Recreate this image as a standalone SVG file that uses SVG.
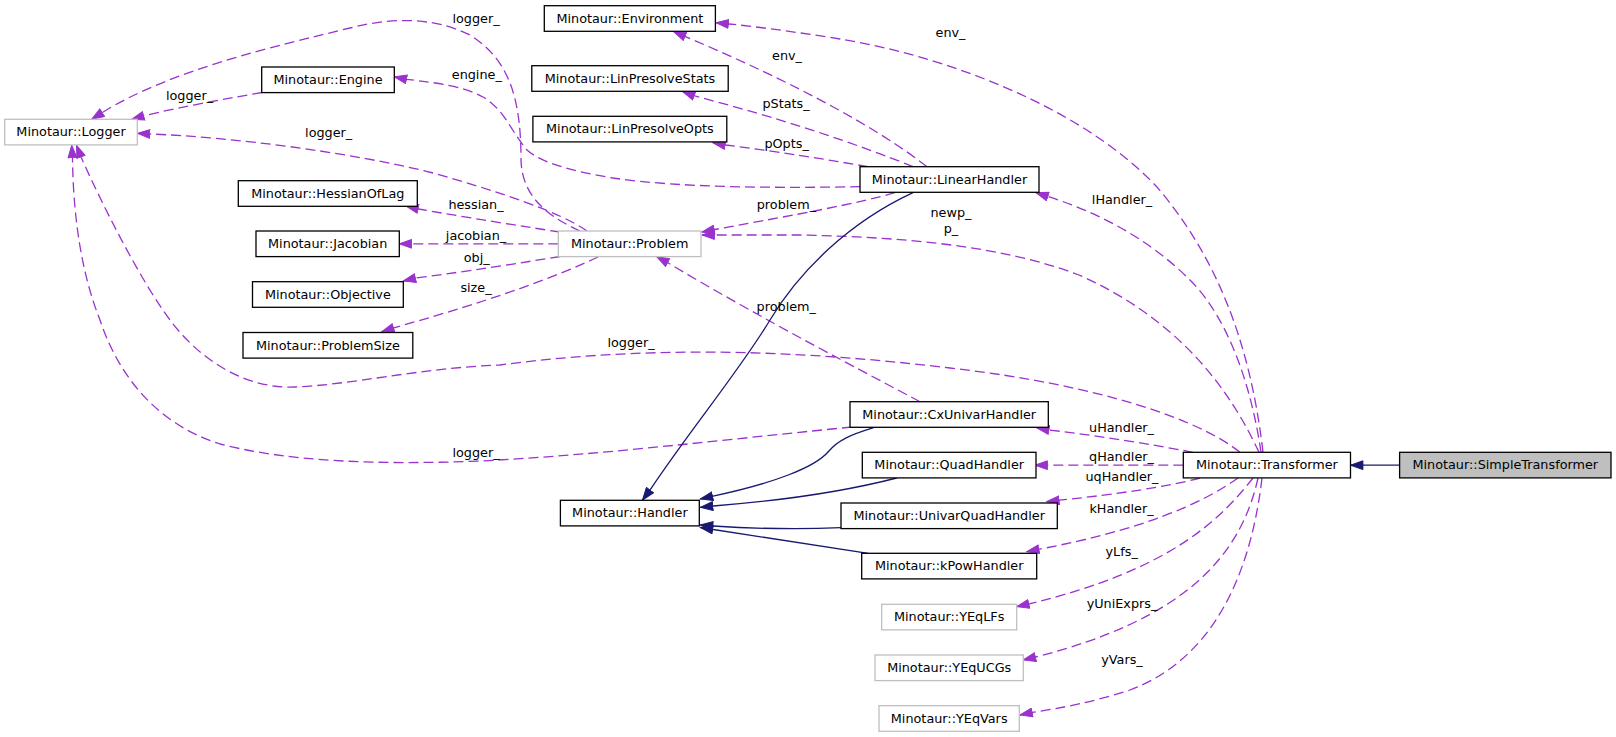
<svg xmlns="http://www.w3.org/2000/svg" width="1616" height="737" viewBox="0 0 1616 737">
<style>
text{font-family:"DejaVu Sans","Liberation Sans",sans-serif;font-size:12.8px;fill:#000}
.n rect{fill:#fff;stroke:#000;stroke-width:1.3}
.n.g rect{stroke:#bfbfbf}
.n.sel rect{fill:#bfbfbf}
.n text,.lb text{text-anchor:middle}
.d{fill:none;stroke:#9a32cd;stroke-width:1.3;stroke-dasharray:10,5;marker-end:url(#ap)}
.s{fill:none;stroke:#191970;stroke-width:1.3;marker-end:url(#an)}
</style>
<defs>
<marker id="ap" markerUnits="userSpaceOnUse" viewBox="0 0 14 10" markerWidth="14" markerHeight="10" refX="13" refY="5" orient="auto"><path d="M0.6,0.6 L13,5 L0.6,9.4 z" fill="#9a32cd" stroke="#9a32cd" stroke-width="1"/></marker>
<marker id="an" markerUnits="userSpaceOnUse" viewBox="0 0 14 10" markerWidth="14" markerHeight="10" refX="13" refY="5" orient="auto"><path d="M0.6,0.6 L13,5 L0.6,9.4 z" fill="#191970" stroke="#191970" stroke-width="1"/></marker>
</defs>
<rect width="1616" height="737" fill="#fff"/>
<g id="edges">
<path class="s" d="M1399.6,465.2 L1350.5,465.2"/>
<path class="d" d="M1263,452.3 C1250,340 1215,255 1157,187 C1080,105 940,55 840,39 C790,31 750,26 729,24 L716,22.7"/>
<path class="d" d="M1261,452.3 C1252,390 1230,320 1190,280 C1150,240 1100,213 1048.4,196.7 L1036,192.7"/>
<path class="d" d="M1259,452.3 C1230,390 1180,320 1079,275 C1000,245 900,237 800,235 L715,235 L702,235"/>
<path class="d" d="M1240,452.3 C1200,420 1100,385 950,368 C800,350 650,345 500,365 C420,368 350,385 295,387 C245,389 200,360 170,320 C140,280 100,200 81.3,157.6 L76.5,145.3"/>
<path class="d" d="M852,427 C720,440 600,455 480,461 C380,465 290,462 220,444 C160,425 120,380 100,320 C80,270 73,210 72.5,158 L71.7,145.3"/>
<path class="d" d="M580,231 C545,215 522,195 521,160 C521,100 510,60 470,35 C440,20 400,15 350,28 C280,45 170,70 102.8,112.3 L91.7,119.3"/>
<path class="d" d="M587,231 C560,212 500,192 433,173 C350,152 230,137 150.3,134 L137.3,133.3"/>
<path class="d" d="M262,92.5 C230,98 180,107 144.2,115.7 L131.7,119.3"/>
<path class="d" d="M860,186.7 C780,188 680,188 613,178 C570,171 540,162 527,150 C510,130 505,110 483,97 C465,87 440,83 407,79.4 L394.3,76.7"/>
<path class="d" d="M927,166.7 C880,130 800,85 685.4,36.6 L673.6,31.5"/>
<path class="d" d="M913,166.7 C860,145 780,118 694.7,96 L682.5,91.5"/>
<path class="d" d="M868,166.7 C830,160 780,152 725.7,145 L712.9,142.7"/>
<path class="d" d="M895,192.7 C860,203 800,214 714.8,229.5 L702,232"/>
<path class="d" d="M920,401.7 C870,375 760,318 668,262.8 L656.7,256.7"/>
<path class="d" d="M560,232 C520,226 470,218 418.6,209 L406,206"/>
<path class="d" d="M558.3,243.8 L412,243.8 L399.3,243.8"/>
<path class="d" d="M560,256.5 C520,263 470,271 416,278 L403.3,281"/>
<path class="d" d="M598,257 C560,275 500,298 394,327.8 L381.7,331.7"/>
<path class="d" d="M1193,452.3 C1150,444 1100,436 1049.4,430 L1036.7,427.7"/>
<path class="d" d="M1183.3,465.2 L1048,465.2 L1035,465.2"/>
<path class="d" d="M1200,478 C1170,486 1120,494 1059.6,500.2 L1046.7,501.7"/>
<path class="d" d="M1238,478 C1200,505 1140,530 1039.4,549.2 L1026.7,551.7"/>
<path class="d" d="M1253,478 C1220,520 1170,570 1029.3,603.8 L1016.7,606.7"/>
<path class="d" d="M1258,478 C1240,560 1180,620 1035.9,657 L1023.3,660"/>
<path class="d" d="M1262,478 C1250,580 1210,660 1130,690 C1090,703 1060,708 1032.7,712.4 L1020,715"/>
<path class="s" d="M913,192.7 C850,222 800,270 770,320 C740,370 690,430 650.3,489.6 L642.5,500"/>
<path class="s" d="M873.6,427.7 C850,435 838,440 828,452 C815,467 775,483 713.1,496.1 L700.4,499"/>
<path class="s" d="M896.8,478 C850,490 790,500 713.3,506 L700.4,507.3"/>
<path class="s" d="M841,527.7 C800,529.5 760,529 713.3,526 L700.4,525"/>
<path class="s" d="M868.2,553.3 L713.2,529.5 L700.4,527.5"/>
<g class="lb">
<text x="950.5" y="36.6">env_</text>
<text x="787" y="60.3">env_</text>
<text x="786" y="108.3">pStats_</text>
<text x="786.6" y="147.6">pOpts_</text>
<text x="786.4" y="208.8">problem_</text>
<text x="786.3" y="311">problem_</text>
<text x="951" y="217">newp_</text>
<text x="951" y="233.3">p_</text>
<text x="1122" y="203.6">lHandler_</text>
<text x="476" y="23.3">logger_</text>
<text x="476.8" y="79.3">engine_</text>
<text x="189.5" y="100.3">logger_</text>
<text x="328.7" y="137.3">logger_</text>
<text x="476" y="208.6">hessian_</text>
<text x="476" y="240.3">jacobian_</text>
<text x="476.7" y="261.6">obj_</text>
<text x="476" y="292">size_</text>
<text x="631" y="347">logger_</text>
<text x="476" y="457">logger_</text>
<text x="1121.5" y="432">uHandler_</text>
<text x="1121.5" y="461">qHandler_</text>
<text x="1122" y="481">uqHandler_</text>
<text x="1121.5" y="512.6">kHandler_</text>
<text x="1121.7" y="556">yLfs_</text>
<text x="1122" y="608.3">yUniExprs_</text>
<text x="1122" y="664.3">yVars_</text>
</g>
</g>
<g id="node_SimpleTransformer" class="n sel"><rect x="1399.6" y="452.3" width="211.4" height="25.6"/><text x="1505.3" y="469.4">Minotaur::SimpleTransformer</text></g>
<g id="node_Transformer" class="n"><rect x="1183.3" y="452.3" width="167.2" height="25.6"/><text x="1266.9" y="469.4">Minotaur::Transformer</text></g>
<g id="node_Environment" class="n"><rect x="544.3" y="5.7" width="171.1" height="25.6"/><text x="629.9" y="22.8">Minotaur::Environment</text></g>
<g id="node_LinPresolveStats" class="n"><rect x="531.8" y="65.7" width="196.4" height="25.6"/><text x="630" y="82.8">Minotaur::LinPresolveStats</text></g>
<g id="node_LinPresolveOpts" class="n"><rect x="532.9" y="116.3" width="193.9" height="25.6"/><text x="629.9" y="133.4">Minotaur::LinPresolveOpts</text></g>
<g id="node_LinearHandler" class="n"><rect x="860" y="166.7" width="179" height="25.6"/><text x="949.5" y="183.8">Minotaur::LinearHandler</text></g>
<g id="node_Logger" class="n g"><rect x="4.7" y="119.3" width="132.6" height="25.6"/><text x="71" y="136.4">Minotaur::Logger</text></g>
<g id="node_Engine" class="n"><rect x="261.7" y="67" width="132.6" height="25.6"/><text x="328" y="84.1">Minotaur::Engine</text></g>
<g id="node_HessianOfLag" class="n"><rect x="238.3" y="180.7" width="179" height="25.6"/><text x="327.8" y="197.8">Minotaur::HessianOfLag</text></g>
<g id="node_Jacobian" class="n"><rect x="256" y="231" width="143.3" height="25.6"/><text x="327.7" y="248.1">Minotaur::Jacobian</text></g>
<g id="node_Objective" class="n"><rect x="252.5" y="281.7" width="150.8" height="25.6"/><text x="327.9" y="298.8">Minotaur::Objective</text></g>
<g id="node_ProblemSize" class="n"><rect x="243" y="332.5" width="169.8" height="25.6"/><text x="327.9" y="349.6">Minotaur::ProblemSize</text></g>
<g id="node_Problem" class="n g"><rect x="558.3" y="231" width="142.7" height="25.6"/><text x="629.7" y="248.1">Minotaur::Problem</text></g>
<g id="node_CxUnivarHandler" class="n"><rect x="850" y="401.7" width="198.3" height="25.6"/><text x="949.2" y="418.8">Minotaur::CxUnivarHandler</text></g>
<g id="node_QuadHandler" class="n"><rect x="862.3" y="452.3" width="173.7" height="25.6"/><text x="949.2" y="469.4">Minotaur::QuadHandler</text></g>
<g id="node_UnivarQuadHandler" class="n"><rect x="841" y="503" width="216.3" height="25.6"/><text x="949.2" y="520.1">Minotaur::UnivarQuadHandler</text></g>
<g id="node_kPowHandler" class="n"><rect x="861.7" y="553.3" width="175" height="25.6"/><text x="949.2" y="570.4">Minotaur::kPowHandler</text></g>
<g id="node_Handler" class="n"><rect x="560.4" y="500.3" width="138.9" height="25.6"/><text x="629.9" y="517.4">Minotaur::Handler</text></g>
<g id="node_YEqLFs" class="n g"><rect x="881.7" y="604.3" width="135" height="25.6"/><text x="949.2" y="621.4">Minotaur::YEqLFs</text></g>
<g id="node_YEqUCGs" class="n g"><rect x="875" y="655" width="148.3" height="25.6"/><text x="949.2" y="672.1">Minotaur::YEqUCGs</text></g>
<g id="node_YEqVars" class="n g"><rect x="879" y="705.7" width="140.3" height="25.6"/><text x="949.2" y="722.8">Minotaur::YEqVars</text></g>
</svg>
